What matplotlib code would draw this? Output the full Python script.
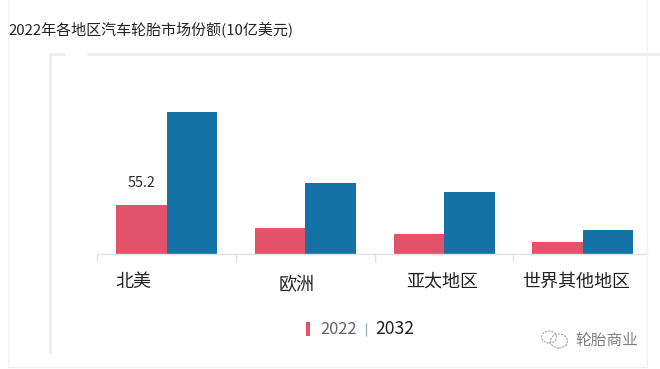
import matplotlib

matplotlib.use("Agg")
import matplotlib.pyplot as plt
import numpy as np
from matplotlib.lines import Line2D
from matplotlib.patches import Ellipse, Rectangle

regions = ["北美", "欧洲", "亚太地区", "世界其他地区"]
values_2022 = [55.2, 29.6, 22.2, 13.2]
values_2032 = [160.3, 79.6, 70.2, 27.0]

plt.rcParams["font.family"] = ["Noto Sans CJK SC", "DejaVu Sans"]

W, H = 660, 369
RED = "#e25268"
BLUE = "#1572a6"
FRAME = "#eeeeee"


def fx(px):
    return px / W


def fy(py):
    return 1 - py / H


fig = plt.figure(figsize=(W / 100, H / 100), dpi=100, facecolor="white")


def hline(x0, x1, y, color=FRAME, lw=2.2):
    fig.add_artist(Line2D([fx(x0), fx(x1)], [fy(y), fy(y)], color=color, lw=lw, solid_capstyle="butt"))


def vline(x, y0, y1, color=FRAME, lw=2.2):
    fig.add_artist(Line2D([fx(x), fx(x)], [fy(y0), fy(y1)], color=color, lw=lw, solid_capstyle="butt"))


# outer screenshot panel
vline(8, 0, 367, "#f3f3f3", 1.0)
hline(8, 647, 367, "#f0f0f0", 1.0)
vline(647, 0, 367, "#f3f3f3", 1.0)

# inner frame, top edge has a gap in it
vline(50, 53, 353)
hline(49, 65, 53.5)
hline(87, 660, 53.5)

# chart area
ax = fig.add_axes([fx(97.3), fy(254), fx(647 - 97.3), fy(56) - fy(254)])
ax.patch.set_alpha(0)
x = np.arange(len(regions))
bar_w = 0.364
bars_a = ax.bar(x - bar_w / 2, values_2022, bar_w, color=RED)
ax.bar(x + bar_w / 2, values_2032, bar_w, color=BLUE)
ax.bar_label(bars_a, labels=["55.2", "", "", ""], padding=11, fontsize=10.4, color="#2b2b2b")

ax.set_xlim(-0.5, 3.463)
ax.set_ylim(0, 223)
ax.set_yticks([])
ax.set_xticks(x - 0.5)
ax.set_xticklabels([])
ax.tick_params(axis="x", length=6, width=1, color="#e2e2e2")
for side in ["top", "left", "right"]:
    ax.spines[side].set_visible(False)
ax.spines["bottom"].set_color("#e2e2e2")
ax.spines["bottom"].set_linewidth(1)

# region labels are not centred under their groups in the source
label_px = [(133.5, 282), (297, 285), (442.5, 282), (576.5, 282)]
for name, (px, py) in zip(regions, label_px):
    fig.text(fx(px), fy(py), name, ha="center", va="center", fontsize=13, color="#222222")

fig.text(fx(8), fy(29), "2022年各地区汽车轮胎市场份额(10亿美元)", ha="left", va="center",
         fontsize=10.8, color="#222222")

# legend
fig.add_artist(Rectangle((fx(306), fy(336)), 4 / W, 14 / H, transform=fig.transFigure, color=RED, lw=0))
fig.text(fx(320), fy(329.5), "2022", ha="left", va="center", fontsize=11.8, color="#6b6265")
vline(365.5, 323, 336, "#8fb6c9", 1.0)
fig.text(fx(375), fy(329.5), "2032", ha="left", va="center", fontsize=12.6, color="#1e1e1e")

# watermark
fig.text(fx(575), fy(340.5), "轮胎商业", ha="left", va="center", fontsize=11.3, color="#808080")
for cx, cy, ew, eh in [(549, 337, 15, 12), (559, 341, 17, 14)]:
    fig.add_artist(Ellipse((fx(cx), fy(cy)), ew / W, eh / H, transform=fig.transFigure,
                           fill=False, ec="#a5a5a5", lw=0.8, ls=(0, (2, 1))))

fig.savefig("out.png", dpi=100)
